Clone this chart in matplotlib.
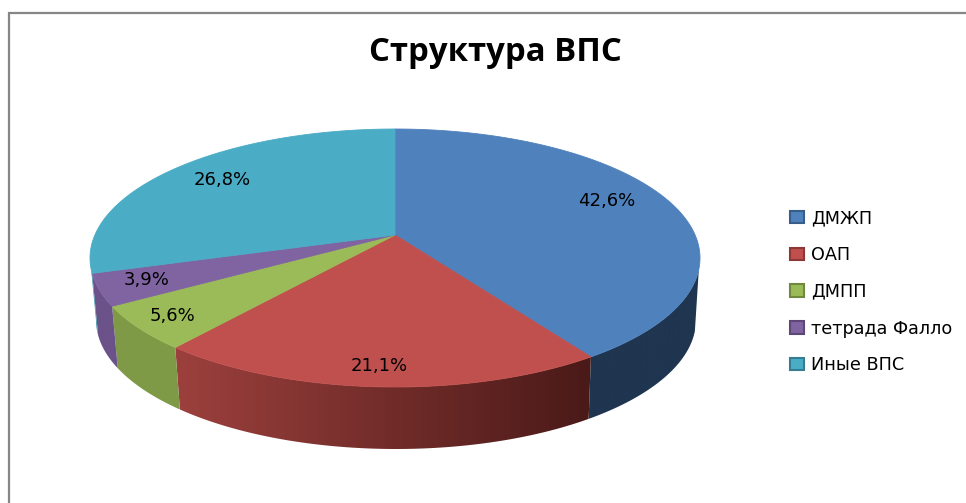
import numpy as np
import matplotlib
matplotlib.use('Agg')
import matplotlib.pyplot as plt
from matplotlib.patches import Patch, Polygon
from matplotlib.colors import LinearSegmentedColormap

categories = ['ДМЖП', 'ОАП', 'ДМПП', 'тетрада Фалло', 'Иные ВПС']
labels = ['42,6%', '21,1%', '5,6%', '3,9%', '26,8%']
# slice sizes as they are drawn in the tilted view (the 3D view squeezes the first slice)
drawn_share = [38.9, 23.9, 6.1, 4.2, 26.9]

top_colors = ['#4F81BD', '#C0504D', '#9BBB59', '#8064A2', '#4BACC6']
edge_colors = ['#385D8A', '#8C3836', '#71893F', '#5C4776', '#357D91']
wall_left = ['#1F3550', '#9C403D', '#7F9A47', '#6B5289', '#3F8FA6']
wall_right = ['#1F3550', '#4A1A18', '#7F9A47', '#6B5289', '#3F8FA6']

# layout in pixels of the picture
apex = (395, 235)
top_ell = (395, 258, 305, 129)
bot_ell = (396, 320, 300, 129)
label_pos = [(607, 201), (379, 366), (172, 316), (147, 280), (222, 180)]


def rim(ell, ang):
    # angle in degrees, clockwise from the top
    cx, cy, rx, ry = ell
    t = np.radians(ang)
    return np.column_stack([cx + rx * np.sin(t), cy - ry * np.cos(t)])


fig = plt.figure(figsize=(9.66, 5.03), dpi=100)
ax = fig.add_axes([0, 0, 1, 1])

edges = np.concatenate([[0], np.cumsum(drawn_share)]) / np.sum(drawn_share) * 360

# side walls, only the front half can be seen
for i in range(len(drawn_share)):
    a = max(edges[i], 95)
    b = min(edges[i + 1], 270)
    if b <= a:
        continue
    t = np.linspace(a, b, 60)
    pts = np.vstack([rim(top_ell, t), rim(bot_ell, t[::-1])])
    poly = Polygon(pts, closed=True, fc='none', ec='none', transform=ax.transData)
    ax.add_patch(poly)
    cmap = LinearSegmentedColormap.from_list('w', [wall_left[i], wall_right[i]])
    x0, x1 = pts[:, 0].min(), pts[:, 0].max()
    y0, y1 = pts[:, 1].min(), pts[:, 1].max()
    im = ax.imshow(np.linspace(0, 1, 128).reshape(1, -1), cmap=cmap, aspect='auto',
                   extent=[x0, x1, y1, y0], zorder=2)
    im.set_clip_path(poly)

# top of the pie
for i in range(len(drawn_share)):
    t = np.linspace(edges[i], edges[i + 1], 120)
    pts = np.vstack([[apex], rim(top_ell, t)])
    ax.add_patch(Polygon(pts, closed=True, fc=top_colors[i], ec=top_colors[i],
                         lw=0.6, zorder=3))

for txt, pos in zip(labels, label_pos):
    ax.text(pos[0], pos[1], txt, ha='center', va='center', fontsize=13,
            family='DejaVu Sans', color='black', zorder=5)

ax.text(495, 52, 'Структура ВПС', ha='center', va='center', fontsize=23.7,
        family='Open Sans', fontweight='bold', color='black')

# chart frame
ax.plot([9, 9, 966], [503, 13, 13], color='#868686', lw=1.6, solid_joinstyle='miter')

handles = [Patch(fc=c, ec=e, lw=1.5) for c, e in zip(top_colors, edge_colors)]
ax.set_xlim(0, 966)
ax.set_ylim(503, 0)
ax.axis('off')
leg = ax.legend(handles, categories, loc='upper left', bbox_to_anchor=(790 / 966, 1 - 209 / 503),
                frameon=False, handlelength=0.78, handleheight=0.7,
                handletextpad=0.42, labelspacing=1.07, borderpad=0, borderaxespad=0,
                prop={'family': 'DejaVu Sans', 'size': 12.7})

fig.savefig('out.png', dpi=100)
